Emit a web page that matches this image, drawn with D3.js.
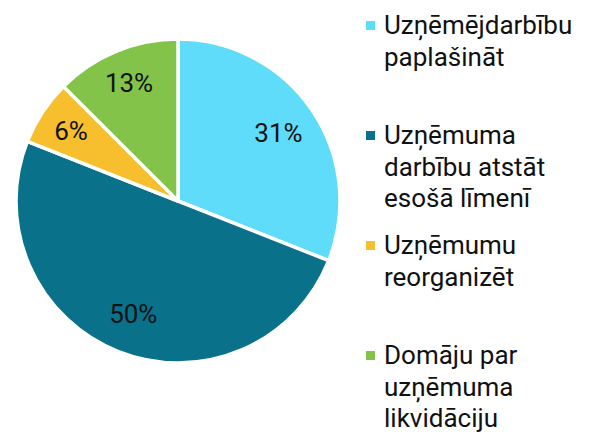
<!DOCTYPE html>
<html><head><meta charset="utf-8">
<script src="https://cdn.jsdelivr.net/npm/d3@7"></script>
<style>body{margin:0;background:#fff}svg{display:block;font-family:Roboto,sans-serif}</style>
</head><body><svg id="c" width="592" height="434"></svg>
<script>
const categories = [
  ["Uzņēmējdarbību", "paplašināt"],
  ["Uzņēmuma", "darbību atstāt", "esošā līmenī"],
  ["Uzņēmumu", "reorganizēt"],
  ["Domāju par", "uzņēmuma", "likvidāciju"]
];
const values = [31, 50, 6.5, 12.5];
const labels = ["31%", "50%", "6%", "13%"];
const colors = ["#5fdcf9", "#0a718b", "#f7bf2d", "#83c34a"];

const svg = d3.select("#c");
const cx = 178, cy = 201, R = 162;
const pie = d3.pie().sort(null).value(d => d)(values);
const arc = d3.arc().innerRadius(0).outerRadius(R);
// smaller slices get their label a little further out
const labelR = d => (d.endAngle - d.startAngle) < 1 ? R * 0.79 : R * 0.75;
const g = svg.append("g").attr("transform", `translate(${cx},${cy})`);
g.selectAll("path").data(pie).join("path")
  .attr("d", arc).attr("fill", (d, i) => colors[i])
  .attr("stroke", "#fff").attr("stroke-width", 3.5).attr("stroke-linejoin", "round");
g.selectAll("text").data(pie).join("text")
  .attr("transform", d => {
    const r = labelR(d);
    return `translate(${d3.arc().innerRadius(r).outerRadius(r).centroid(d)})`;
  })
  .attr("text-anchor", "middle").attr("dy", "0.35em")
  .attr("font-size", 26).attr("fill", "#111")
  .text((d, i) => labels[i]);

const lg = svg.append("g");
categories.forEach((lines, i) => {
  const base = 34 + i * 110;
  lg.append("rect").attr("x", 366).attr("y", base - 13).attr("width", 9).attr("height", 9).attr("fill", colors[i]);
  const t = lg.append("text").attr("font-size", 26).attr("fill", "#111");
  lines.forEach((l, j) => {
    t.append("tspan").attr("x", 384).attr("y", base + j * 31.5).text(l);
  });
});
</script></body></html>
